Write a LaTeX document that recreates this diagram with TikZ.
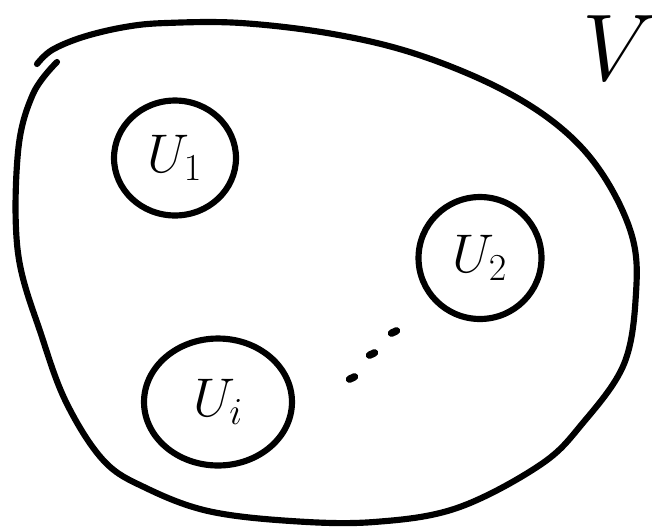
\documentclass[tikz,border=0pt]{standalone}
\usepackage{fix-cm}
\usetikzlibrary{shapes.geometric}
\begin{document}
\begin{tikzpicture}[x=0.02cm, y=-0.02cm, line width=3.5pt, line cap=round, line join=round,
    subset/.style={draw, ellipse, inner sep=0pt, font=\fontsize{31}{36}\selectfont}]
    \useasboundingbox (0,0) rectangle (652,528);
    % the big set V (open at the top left, like the sketch)
    \draw plot[smooth, tension=0.6] coordinates {(37,64) (52,50) (83,37) (125,27) (166,23)
        (241,23) (333,34) (416,54) (499,88) (561,128) (603,175) (632,236) (636,293)
        (624,364) (582,424) (540,465) (457,508) (374,522) (291,521) (208,511) (146,488)
        (104,461) (67,404) (42,337) (18,253) (18,152) (33,94) (57,62)};
    \node[font=\fontsize{54}{60}\selectfont] (setv) at (620,48) {$V$};
    % subsets inside V
    \node[subset, minimum width=2.44cm, minimum height=2.30cm] (u1) at (175,158) {$U_1$};
    \node[subset, minimum width=2.46cm, minimum height=2.44cm] (u2) at (480,258) {$U_2$};
    \node[subset, minimum width=2.96cm, minimum height=2.54cm] (ui) at (218,402) {$U_i$};
    % dots between U_i and U_2
    \foreach \x/\y in {352/378, 372/354, 394/332}
        \draw[line width=4.2pt] (\x-2.5,\y+1.2) -- (\x+2.5,\y-1.2);
\end{tikzpicture}
\end{document}
